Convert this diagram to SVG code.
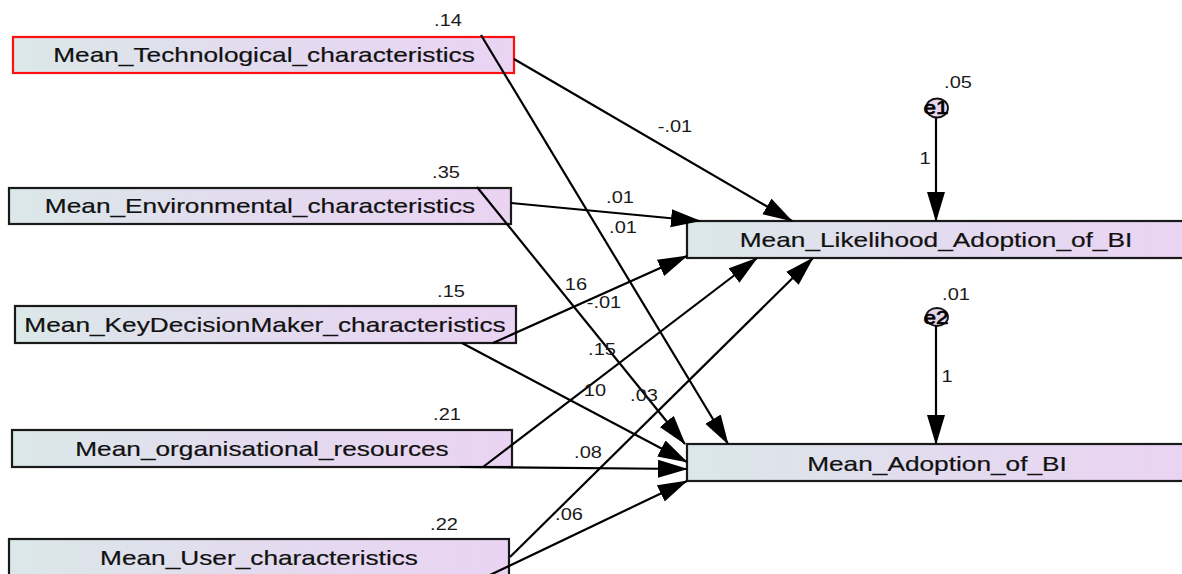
<svg xmlns="http://www.w3.org/2000/svg" width="1182" height="574" viewBox="0 0 1182 574">
  <defs>
    <linearGradient id="boxFill" x1="0" y1="0" x2="1" y2="0">
      <stop offset="0" stop-color="#dbe8e8"/>
      <stop offset="0.5" stop-color="#e3dbef"/>
      <stop offset="1" stop-color="#ead3f3"/>
    </linearGradient>
    <marker id="arrow" markerUnits="userSpaceOnUse" markerWidth="32" markerHeight="20" refX="29" refY="9" orient="auto">
      <path d="M0,0 L30,9 L0,18 z" fill="#000"/>
    </marker>
    <style>
      .box { fill: url(#boxFill); stroke: #1a1a1a; stroke-width: 2.2; }
      .box.sel { stroke: #ff1010; }
      .name { font-family: "Liberation Sans", Arial, sans-serif; font-size: 21px; fill: #111; text-anchor: middle; stroke: #111; stroke-width: 0.2; }
      .num { font-family: "Liberation Sans", Arial, sans-serif; font-size: 16px; fill: #1a1a1a; text-anchor: middle; }
      .err { fill: #e6d6ef; stroke: #111; stroke-width: 1.8; }
      .errname { font-family: "Liberation Sans", Arial, sans-serif; font-size: 18px; fill: #000; text-anchor: middle; stroke: #000; stroke-width: 0.7; }
      .path { stroke: #000; stroke-width: 2.2; fill: none; marker-end: url(#arrow); }
    </style>
  </defs>
  <rect width="1182" height="574" fill="#fff"/>

  <!-- exogenous observed variables -->
  <g id="tech">
    <rect class="box sel" x="13" y="37" width="501" height="36"/>
    <text class="name" transform="translate(264,62) scale(1.25,1)">Mean_Technological_characteristics</text>
    <text class="num" transform="translate(448,26) scale(1.25,1)">.14</text>
  </g>
  <g id="env">
    <rect class="box" x="9" y="188" width="502" height="36"/>
    <text class="name" transform="translate(260,213) scale(1.25,1)">Mean_Environmental_characteristics</text>
    <text class="num" transform="translate(446,178) scale(1.25,1)">.35</text>
  </g>
  <g id="kdm">
    <rect class="box" x="15" y="306" width="501" height="37"/>
    <text class="name" transform="translate(265,332) scale(1.25,1)">Mean_KeyDecisionMaker_characteristics</text>
    <text class="num" transform="translate(451,297) scale(1.25,1)">.15</text>
  </g>
  <g id="org">
    <rect class="box" x="12" y="430" width="500" height="37"/>
    <text class="name" transform="translate(262,456) scale(1.25,1)">Mean_organisational_resources</text>
    <text class="num" transform="translate(447,420) scale(1.25,1)">.21</text>
  </g>
  <g id="user">
    <rect class="box" x="9" y="539" width="500" height="37"/>
    <text class="name" transform="translate(259,565) scale(1.25,1)">Mean_User_characteristics</text>
    <text class="num" transform="translate(444,530) scale(1.25,1)">.22</text>
  </g>

  <!-- endogenous observed variables -->
  <g id="likelihood">
    <rect class="box" x="687" y="221" width="512" height="37"/>
    <text class="name" transform="translate(936,247) scale(1.25,1)">Mean_Likelihood_Adoption_of_BI</text>
  </g>
  <g id="adoption">
    <rect class="box" x="687" y="444" width="512" height="37"/>
    <text class="name" transform="translate(937,471) scale(1.25,1)">Mean_Adoption_of_BI</text>
  </g>

  <!-- error terms -->
  <g id="e1">
    <ellipse class="err" cx="937" cy="108" rx="11" ry="9.5"/>
    <text class="errname" transform="translate(936,114) scale(1.25,1)">e1</text>
    <text class="num" transform="translate(958,88) scale(1.25,1)">.05</text>
  </g>
  <g id="e2">
    <ellipse class="err" cx="937" cy="317" rx="11" ry="9"/>
    <text class="errname" transform="translate(936,324) scale(1.25,1)">e2</text>
    <text class="num" transform="translate(956,300) scale(1.25,1)">.01</text>
  </g>

  <!-- regression paths -->
  <g id="connectors">
    <line class="path" x1="514" y1="59" x2="792" y2="221"/>
    <line class="path" x1="481" y1="35" x2="728" y2="444"/>
    <line class="path" x1="511" y1="203" x2="700" y2="221"/>
    <line class="path" x1="477" y1="187" x2="685" y2="444"/>
    <line class="path" x1="493" y1="343" x2="687" y2="256"/>
    <line class="path" x1="462" y1="343" x2="687" y2="462"/>
    <line class="path" x1="483" y1="467" x2="757" y2="258"/>
    <line class="path" x1="460" y1="467" x2="687" y2="469"/>
    <line class="path" x1="510" y1="557" x2="813" y2="258"/>
    <line class="path" x1="490" y1="575" x2="687" y2="481"/>
    <line class="path" x1="936" y1="118" x2="936" y2="221"/>
    <line class="path" x1="936" y1="326" x2="936" y2="444"/>

    <text class="num" transform="translate(675,132) scale(1.25,1)">-.01</text>
    <text class="num" transform="translate(620,203) scale(1.25,1)">.01</text>
    <text class="num" transform="translate(623,233) scale(1.25,1)">.01</text>
    <text class="num" transform="translate(576,290) scale(1.25,1)">16</text>
    <text class="num" transform="translate(604,308) scale(1.25,1)">-.01</text>
    <text class="num" transform="translate(602,355) scale(1.25,1)">.15</text>
    <text class="num" transform="translate(595,396) scale(1.25,1)">10</text>
    <text class="num" transform="translate(644,401) scale(1.25,1)">.03</text>
    <text class="num" transform="translate(588,458) scale(1.25,1)">.08</text>
    <text class="num" transform="translate(569,520) scale(1.25,1)">.06</text>
    <text class="num" transform="translate(925,164) scale(1.25,1)">1</text>
    <text class="num" transform="translate(947,382) scale(1.25,1)">1</text>
  </g>
</svg>
